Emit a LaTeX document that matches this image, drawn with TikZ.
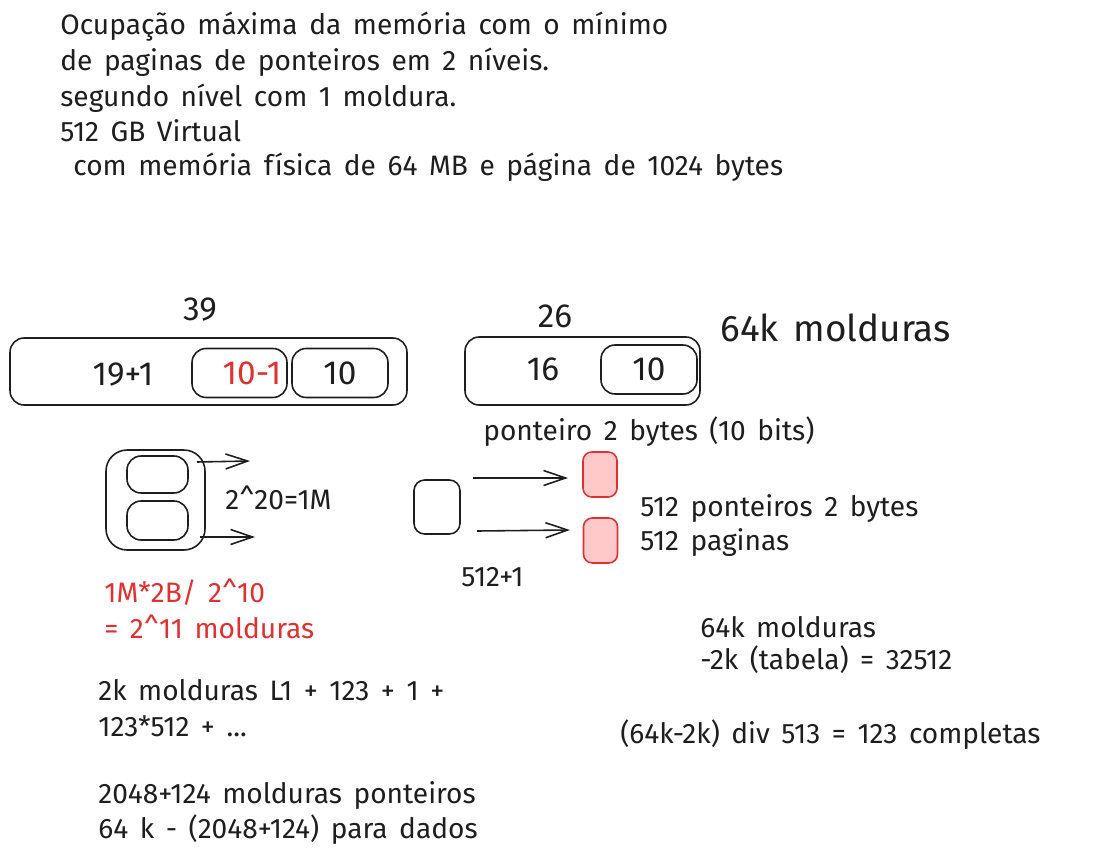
\documentclass[tikz,border=0pt]{standalone}
\usepackage{fontspec}
\setmainfont[WordSpace=1.55]{Fira Sans}
\usetikzlibrary{positioning, arrows.meta}
\definecolor{inkblack}{HTML}{1E1E1E}
\definecolor{inkred}{HTML}{E03131}
\definecolor{pagefill}{HTML}{FFC9C9}

\begin{document}
\begin{tikzpicture}[x=0.02cm, y=-0.02cm,
    txt/.style={anchor=west, inner sep=0pt, text=inkblack, font=\fontsize{16}{19}\selectfont},
    big/.style={inner sep=0pt, text=inkblack, font=\fontsize{19}{22}\selectfont},
    frame/.style={draw=inkblack, line width=0.9pt, rounded corners=8pt, inner sep=0pt},
    page/.style={draw=inkred, fill=pagefill, line width=0.9pt, rounded corners=5pt,
                 minimum width=0.68cm, minimum height=0.9cm, inner sep=0pt},
    ptr/.style={-{Straight Barb[length=4.4mm, width=3mm]}, draw=inkblack, line width=0.9pt}]
  \useasboundingbox[fill=white] (0,0) rectangle (1094,858);

  % enunciado
  \node[txt] (l1) at (60,27) {Ocupação máxima da memória com o mínimo};
  \node[txt] (l2) at (60,62) {de paginas de ponteiros em 2 níveis.};
  \node[txt] (l3) at (60,98) {segundo nível com 1 moldura.};
  \node[txt] (l4) at (60,131) {512 GB Virtual};
  \node[txt] (l5) at (73,167) {com memória física de 64 MB e página de 1024 bytes};

  % endereco virtual
  \node[big] (n39) at (200,310) {39};
  \node[frame, minimum width=7.94cm, minimum height=1.34cm] (va) at (208.5,371.5) {};
  \node[big] (hi) at (123,375) {19+1};
  \node[frame, minimum width=1.9cm, minimum height=0.98cm, text=inkred,
        font=\fontsize{19}{22}\selectfont] (mid) at (239.5,373) {\hspace{0.5cm}10-1};
  \node[frame, minimum width=1.92cm, minimum height=0.98cm, big] (off) at (340,373) {10};

  % endereco fisico
  \node[big] (n26) at (555,316) {26};
  \node[frame, minimum width=4.7cm, minimum height=1.36cm] (pa) at (582.5,371) {};
  \node[big] (frm) at (543,369) {16};
  \node[frame, minimum width=1.92cm, minimum height=0.98cm, big] (poff) at (649,369.5) {10};
  \node[big, anchor=west, font=\fontsize{21}{24}\selectfont] (mold) at (720,328) {64k molduras};
  \node[txt] (ptrsz) at (483,432) {ponteiro 2 bytes (10 bits)};

  % tabela de primeiro nivel
  \node[frame, rounded corners=12pt, minimum width=1.98cm, minimum height=2cm] (t1) at (155.5,500) {};
  \node[frame, minimum width=1.22cm, minimum height=0.74cm] (t1a) at (157.5,474.5) {};
  \node[frame, minimum width=1.22cm, minimum height=0.78cm] (t1b) at (157.5,520.5) {};
  \coordinate (t1as) at (197,462);
  \coordinate (t1ae) at (250,461);
  \coordinate (t1bs) at (200,537);
  \coordinate (t1be) at (255,537);
  \draw[ptr] (t1as) -- (t1ae);
  \draw[ptr] (t1bs) -- (t1be);
  \node[txt] (sz1) at (225,498) {2\^{}20=1M};
  \node[txt, text=inkred] (calc1) at (104,592) {1M*2B/ 2\^{}10};
  \node[txt, text=inkred] (calc2) at (104,627) {= 2\^{}11 molduras};

  % tabela de segundo nivel
  \node[frame, rounded corners=6pt, minimum width=0.92cm, minimum height=1.08cm] (t2) at (437,507) {};
  \node[page] (pg1) at (600,474.5) {};
  \node[page] (pg2) at (600.5,540.5) {};
  \coordinate (p1s) at (473,478);
  \coordinate (p1e) at (568,478);
  \coordinate (p2s) at (477,531);
  \coordinate (p2e) at (570,530);
  \draw[ptr] (p1s) -- (p1e);
  \draw[ptr] (p2s) -- (p2e);
  \node[txt] (cnt) at (461,577) {512+1};
  \node[txt] (np) at (640,509) {512 ponteiros 2 bytes};
  \node[txt] (npg) at (640,543) {512 paginas};

  % contas
  \node[txt] (r1) at (700,627) {64k molduras};
  \node[txt] (r2) at (700,660) {-2k (tabela) = 32512};
  \node[txt] (r3) at (620,735) {(64k-2k) div 513 = 123 completas};
  \node[txt] (b1) at (98,690) {2k molduras L1 + 123 + 1 +};
  \node[txt] (b2) at (98,726) {123*512 + ...};
  \node[txt] (b3) at (98,796) {2048+124 molduras ponteiros};
  \node[txt] (b4) at (98,830) {64 k - (2048+124) para dados};
\end{tikzpicture}
\end{document}
